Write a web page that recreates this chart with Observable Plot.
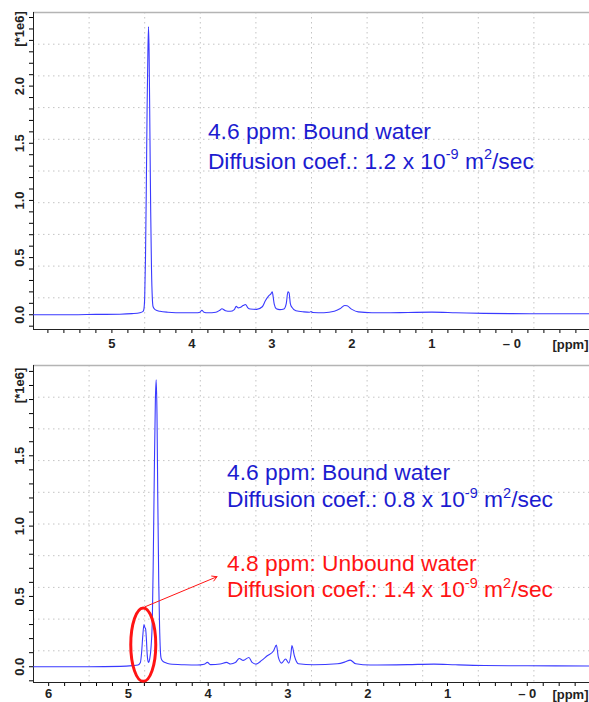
<!DOCTYPE html>
<html>
<head>
<meta charset="utf-8">
<script src="https://cdn.jsdelivr.net/npm/d3@7"></script>
<script src="https://cdn.jsdelivr.net/npm/@observablehq/plot@0.6"></script>
<style>
  html, body { margin: 0; padding: 0; background: #fff; }
  #chart { width: 589px; overflow: hidden; }
  #chart svg { display: block; }
  g[aria-label="x-axis tick label"] text { font-weight: bold; fill: #222; }
</style>
</head>
<body>
<div id="chart"></div>
<script>
// ---------- data: top spectrum ----------
const topPpm = [5.98, 5.5, 5.2, 4.9, 4.75, 4.65, 4.61, 4.60, 4.59, 4.58, 4.57, 4.56, 4.55, 4.542, 4.535, 4.525, 4.515, 4.505, 4.495, 4.485,
  4.46, 4.40, 4.30, 4.10, 3.95, 3.90, 3.875, 3.85, 3.80, 3.70, 3.65, 3.625, 3.58, 3.52, 3.47, 3.446, 3.42, 3.40, 3.36, 3.33, 3.30, 3.27,
  3.19, 3.12, 3.08, 3.04, 3.01, 2.995, 2.985, 2.97, 2.945, 2.90, 2.85, 2.82, 2.80, 2.785, 2.77, 2.75, 2.70, 2.60, 2.53, 2.51, 2.49,
  2.35, 2.22, 2.15, 2.09, 2.06, 2.00, 1.92, 1.75, 1.60, 1.30, 1.00, 0.70, 0.35, 0.00, -0.50, -0.97];
const topIntensity = [0.0, 0.0, 0.003, 0.005, 0.01, 0.018, 0.03, 0.05, 0.15, 0.5, 1.1, 1.8, 2.3, 2.52, 2.3, 1.6, 0.9, 0.4, 0.15, 0.07,
  0.045, 0.03, 0.022, 0.017, 0.017, 0.022, 0.04, 0.022, 0.017, 0.022, 0.04, 0.052, 0.035, 0.03, 0.045, 0.073, 0.06, 0.063, 0.08, 0.09, 0.06, 0.05,
  0.047, 0.07, 0.125, 0.165, 0.185, 0.2, 0.16, 0.09, 0.052, 0.045, 0.05, 0.1, 0.2, 0.19, 0.1, 0.065, 0.035, 0.025, 0.022, 0.028, 0.02,
  0.018, 0.03, 0.052, 0.081, 0.078, 0.047, 0.025, 0.018, 0.017, 0.02, 0.023, 0.018, 0.012, 0.01, 0.009, 0.009];

// ---------- data: bottom spectrum ----------
const bottomPpm = [6.19, 5.5, 5.1, 4.95, 4.88, 4.85, 4.835, 4.82, 4.805, 4.795, 4.785, 4.775, 4.765, 4.752, 4.745, 4.735, 4.715, 4.70,
  4.69, 4.675, 4.662, 4.652, 4.642, 4.632, 4.62, 4.61, 4.60, 4.59, 4.57, 4.54, 4.48, 4.30, 4.14, 4.05, 4.01, 3.97, 3.85, 3.77, 3.72,
  3.66, 3.61, 3.56, 3.49, 3.45, 3.40, 3.33, 3.26, 3.18, 3.145, 3.12, 3.08, 3.03, 2.99, 2.965, 2.95, 2.92, 2.87, 2.68, 2.38, 2.28, 2.22,
  2.15, 1.97, 1.50, 1.17, 0.90, 0.54, 0.00, -0.78];
const bottomIntensity = [0.0, 0.0, 0.003, 0.008, 0.012, 0.03, 0.1, 0.22, 0.30, 0.28, 0.27, 0.2, 0.09, 0.035, 0.03, 0.05, 0.15, 0.35,
  0.7, 1.4, 1.9, 2.04, 1.8, 1.2, 0.6, 0.3, 0.12, 0.06, 0.04, 0.03, 0.019, 0.014, 0.012, 0.018, 0.031, 0.015, 0.019, 0.031, 0.02,
  0.03, 0.059, 0.045, 0.066, 0.031, 0.019, 0.045, 0.078, 0.114, 0.154, 0.066, 0.026, 0.055, 0.026, 0.08, 0.15, 0.078, 0.021, 0.014, 0.021, 0.035, 0.047,
  0.021, 0.012, 0.015, 0.019, 0.014, 0.009, 0.007, 0.005];

// ---------- axes ----------
const topXDomain = [5.98, -0.97];
const topYDomain = [-0.129, 2.644];
const bottomXDomain = [6.19, -0.78];
const bottomYDomain = [-0.112, 2.142];
const xTickValues = [6, 5, 4, 3, 2, 1, 0];
const xTickLabels = ["6", "5", "4", "3", "2", "1", "– 0"];
const topYLabelValues = [0, 0.5, 1, 1.5, 2, 2.5];
const topYLabels = ["0.0", "0.5", "1.0", "1.5", "2.0", "[*1e6]"];
const bottomYLabelValues = [0, 0.5, 1, 1.5, 2];
const bottomYLabels = ["0.0", "0.5", "1.0", "1.5", "[*1e6]"];

// ---------- annotations ----------
const topNotes = ["4.6 ppm: Bound water", "Diffusion coef.: 1.2 x 10^{-9} m^{2}/sec"];
const topNoteX = 3.80;
const topNoteY = [1.534, 1.277];
const boundNotes = ["4.6 ppm: Bound water", "Diffusion coef.: 0.8 x 10^{-9} m^{2}/sec"];
const boundNoteX = 3.764;
const boundNoteY = [1.331, 1.134];
const unboundNotes = ["4.8 ppm: Unbound water", "Diffusion coef.: 1.4 x 10^{-9} m^{2}/sec"];
const unboundNoteY = [0.683, 0.493];
const ellipseCenter = [4.814, 0.157];
const arrowFrom = [4.789, 0.427];
const arrowTo = [3.89, 0.64];

const BLUE_TEXT = "#1c1cd0";
const RED = "#ff1414";
const LINE = "#3a3aff";
const NOTE_SIZE = 22.8;

const ellipseSymbol = {
  draw(ctx) {
    const rx = 12.5, ry = 36.7, k = 0.5523;
    ctx.moveTo(rx, 0);
    ctx.bezierCurveTo(rx, k * ry, k * rx, ry, 0, ry);
    ctx.bezierCurveTo(-k * rx, ry, -rx, k * ry, -rx, 0);
    ctx.bezierCurveTo(-rx, -k * ry, -k * rx, -ry, 0, -ry);
    ctx.bezierCurveTo(k * rx, -ry, rx, -k * ry, rx, 0);
    ctx.closePath();
  }
};

function notesMark(lines, x, ys, color) {
  const data = lines.map((t, i) => ({t, x, y: ys[i]}));
  return Plot.text(data, {x: "x", y: "y", text: "t", textAnchor: "start", lineAnchor: "bottom",
    fontSize: NOTE_SIZE, fill: color, fontFamily: "'Liberation Sans', Arial, Helvetica, sans-serif"});
}

function panel({ppm, inten, xDomain, yDomain, height, marginTop, marginBottom, tickPadding, yLabVals, yLabs, extra}) {
  const xGrid = d3.range(1, 10).map(i => xDomain[0] + (xDomain[1] - xDomain[0]) * i / 10);
  const yGrid = d3.range(1, 10).map(i => yDomain[0] + (yDomain[1] - yDomain[0]) * i / 10);
  const xMinor = d3.range(Math.ceil(xDomain[1] * 5), Math.floor(xDomain[0] * 5) + 1).map(k => k / 5);
  const yMinor = d3.range(Math.ceil(yDomain[0] * 10), Math.floor(yDomain[1] * 10) + 1).map(k => k / 10);
  const data = ppm.map((p, i) => ({p, v: inten[i]}));
  return Plot.plot({
    width: 589, height, marginTop, marginBottom, marginLeft: 33, marginRight: 0,
    style: {fontFamily: "'Liberation Sans', Arial, sans-serif", background: "white", overflow: "visible"},
    x: {domain: xDomain, label: null},
    y: {domain: yDomain, label: null},
    marks: [
      Plot.ruleX(xGrid, {stroke: "#c4c4c4", strokeDasharray: "1.5,3.5"}),
      Plot.ruleY(yGrid, {stroke: "#c4c4c4", strokeDasharray: "1.5,3.5"}),
      Plot.ruleY([yDomain[1]], {stroke: "#b4b4b4", strokeWidth: 1.5}),
      Plot.axisX({ticks: xMinor, tickSize: 4, tickPadding, fontSize: 13,
        tickFormat: d => { const i = xTickValues.findIndex(v => Math.abs(v - d) < 1e-9); return i >= 0 ? xTickLabels[i] : ""; }}),
      Plot.axisY({ticks: yMinor, tickSize: 4, tickFormat: () => ""}),
      Plot.ruleX([xDomain[0]], {stroke: "#222"}),
      Plot.ruleY([yDomain[0]], {stroke: "#222"}),
      Plot.text(yLabVals, {y: d => d, text: (d, i) => yLabs[i], frameAnchor: "left", dx: -14, rotate: -90,
        textAnchor: "middle", lineAnchor: "middle", fontSize: 13, fontWeight: "bold", fill: "#222"}),
      Plot.text(["[ppm]"], {text: d => d, frameAnchor: "bottom-right", textAnchor: "end", dx: -1, dy: 4 + tickPadding + 10,
        lineAnchor: "bottom", fontSize: 13, fontWeight: "bold", fill: "#222"}),
      Plot.line(data, {x: "p", y: "v", stroke: LINE, strokeWidth: 1.1, curve: "monotone-x"}),
      ...extra
    ]
  });
}

function superscripts(svg) {
  svg.querySelectorAll("text").forEach(t => {
    const s = t.textContent;
    if (!s.includes("^{")) return;
    while (t.firstChild) t.removeChild(t.firstChild);
    const parts = s.split(/(\^\{[^}]*\})/);
    let raised = false;
    parts.forEach(p => {
      if (!p) return;
      const ts = document.createElementNS("http://www.w3.org/2000/svg", "tspan");
      if (p.startsWith("^{")) {
        ts.textContent = p.slice(2, -1);
        ts.setAttribute("font-size", "14.5");
        ts.setAttribute("dy", "-9.5");
        raised = true;
      } else {
        ts.textContent = p;
        if (raised) { ts.setAttribute("dy", "9.5"); raised = false; }
      }
      t.appendChild(ts);
    });
  });
}

const topSvg = panel({
  ppm: topPpm, inten: topIntensity, xDomain: topXDomain, yDomain: topYDomain,
  height: 352, marginTop: 12, marginBottom: 23, tickPadding: 5, yLabVals: topYLabelValues, yLabs: topYLabels,
  extra: [notesMark(topNotes, topNoteX, topNoteY, BLUE_TEXT)]
});
const bottomSvg = panel({
  ppm: bottomPpm, inten: bottomIntensity, xDomain: bottomXDomain, yDomain: bottomYDomain,
  height: 350, marginTop: 13, marginBottom: 20, tickPadding: 2, yLabVals: bottomYLabelValues, yLabs: bottomYLabels,
  extra: [
    notesMark(boundNotes, boundNoteX, boundNoteY, BLUE_TEXT),
    notesMark(unboundNotes, boundNoteX, unboundNoteY, RED),
    Plot.dot([ellipseCenter], {x: d => d[0], y: d => d[1], r: 10, symbol: ellipseSymbol, stroke: RED, strokeWidth: 3, fill: "none"}),
    Plot.arrow([0], {x1: () => arrowFrom[0], y1: () => arrowFrom[1], x2: () => arrowTo[0], y2: () => arrowTo[1],
      stroke: RED, strokeWidth: 1, headLength: 8})
  ]
});
superscripts(topSvg);
superscripts(bottomSvg);
document.getElementById("chart").append(topSvg, bottomSvg);
</script>
</body>
</html>
